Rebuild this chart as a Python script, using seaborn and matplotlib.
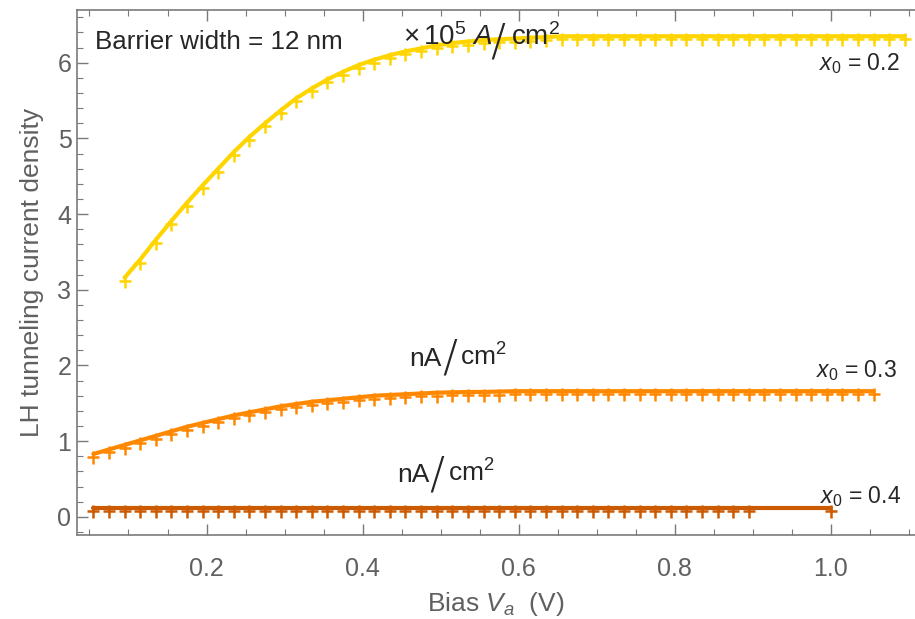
import numpy as np
import matplotlib
matplotlib.use("Agg")
import matplotlib.pyplot as plt
import seaborn as sns
import pandas as pd
from matplotlib.ticker import MultipleLocator
from matplotlib.path import Path

# bias (V) and LH tunneling current density
bias_02 = [0.095, 0.115, 0.135, 0.155, 0.175, 0.195, 0.215, 0.235, 0.255, 0.275,
           0.295, 0.315, 0.335, 0.355, 0.375, 0.395, 0.415, 0.435, 0.455, 0.475,
           0.495, 0.515, 0.535, 0.555, 0.575, 0.595, 0.615, 0.635, 0.655, 0.675,
           0.695, 0.715, 0.735, 0.755, 0.775, 0.795, 0.815, 0.835, 0.855, 0.875,
           0.895, 0.915, 0.935, 0.955, 0.975, 0.995, 1.015, 1.035, 1.055, 1.075,
           1.095]
curr_02 = [3.16, 3.40, 3.66, 3.91, 4.15, 4.38, 4.60, 4.82, 5.02, 5.20,
           5.37, 5.53, 5.66, 5.78, 5.88, 5.97, 6.04, 6.10, 6.15, 6.19,
           6.23, 6.26, 6.28, 6.30, 6.31, 6.32, 6.33, 6.34, 6.35, 6.35,
           6.35, 6.35, 6.35, 6.35, 6.35, 6.35, 6.35, 6.35, 6.35, 6.35,
           6.35, 6.35, 6.35, 6.35, 6.35, 6.35, 6.35, 6.35, 6.35, 6.35,
           6.35]

bias_03 = [0.055, 0.075, 0.095, 0.115, 0.135, 0.155, 0.175, 0.195, 0.215, 0.235,
           0.255, 0.275, 0.295, 0.315, 0.335, 0.355, 0.375, 0.395, 0.415, 0.435,
           0.455, 0.475, 0.495, 0.515, 0.535, 0.555, 0.575, 0.595, 0.615, 0.635,
           0.655, 0.675, 0.695, 0.715, 0.735, 0.755, 0.775, 0.795, 0.815, 0.835,
           0.855, 0.875, 0.895, 0.915, 0.935, 0.955, 0.975, 0.995, 1.015, 1.035,
           1.055]
curr_03 = [0.83, 0.89, 0.95, 1.01, 1.07, 1.13, 1.19, 1.24, 1.29, 1.34,
           1.38, 1.42, 1.46, 1.49, 1.52, 1.54, 1.56, 1.58, 1.60, 1.61,
           1.62, 1.63, 1.64, 1.645, 1.65, 1.65, 1.655, 1.66, 1.66, 1.66,
           1.66, 1.66, 1.66, 1.66, 1.66, 1.66, 1.66, 1.66, 1.66, 1.66,
           1.66, 1.66, 1.66, 1.66, 1.66, 1.66, 1.66, 1.66, 1.66, 1.66,
           1.66]

bias_04 = [0.055, 0.075, 0.095, 0.115, 0.135, 0.155, 0.175, 0.195, 0.215, 0.235,
           0.255, 0.275, 0.295, 0.315, 0.335, 0.355, 0.375, 0.395, 0.415, 0.435,
           0.455, 0.475, 0.495, 0.515, 0.535, 0.555, 0.575, 0.595, 0.615, 0.635,
           0.655, 0.675, 0.695, 0.715, 0.735, 0.755, 0.775, 0.795, 0.815, 0.835,
           0.855, 0.875, 0.895, 1.0]
curr_04 = [0.12, 0.12, 0.12, 0.12, 0.12, 0.12, 0.12, 0.12, 0.12, 0.12,
           0.12, 0.12, 0.12, 0.12, 0.12, 0.12, 0.12, 0.12, 0.12, 0.12,
           0.12, 0.12, 0.12, 0.12, 0.12, 0.12, 0.12, 0.12, 0.12, 0.12,
           0.12, 0.12, 0.12, 0.12, 0.12, 0.12, 0.12, 0.12, 0.12, 0.12,
           0.12, 0.12, 0.12, 0.12]

colors = {"0.2": "#ffd500", "0.3": "#ff8800", "0.4": "#cc5a00"}

df = pd.concat([
    pd.DataFrame({"bias": bias_02, "J": curr_02, "x0": "0.2"}),
    pd.DataFrame({"bias": bias_03, "J": curr_03, "x0": "0.3"}),
    pd.DataFrame({"bias": bias_04, "J": curr_04, "x0": "0.4"}),
])

# "+" marker sitting a little below its point, like the Mathematica plot markers
plus_low = Path([(-0.5, -0.25), (0.5, -0.25), (0, -0.75), (0, 0.25)],
                [Path.MOVETO, Path.LINETO, Path.MOVETO, Path.LINETO])

sns.set_style("ticks")
plt.rcParams["font.family"] = ["Liberation Sans", "DejaVu Sans"]
plt.rcParams["mathtext.fontset"] = "custom"
plt.rcParams["mathtext.rm"] = "Liberation Sans"
plt.rcParams["mathtext.it"] = "Liberation Sans:italic"

W, H = 915, 619
fig = plt.figure(figsize=(W / 100, H / 100), dpi=100)
ax = fig.add_axes([77 / W, 1 - 535 / H, 1 - 77 / W, (535 - 10) / H])

for key, sub in df.groupby("x0"):
    c = colors[key]
    sns.lineplot(data=sub, x="bias", y="J", color=c, lw=3,
                 marker=plus_low, markersize=14, mew=1.8, markeredgecolor=c,
                 markerfacecolor="none", ax=ax, legend=False,
                 estimator=None, sort=False)

ax.set_xlim(0.034, 1.108)
ax.set_ylim(-0.24, 6.697)
ax.xaxis.set_minor_locator(MultipleLocator(0.05))
ax.yaxis.set_major_locator(MultipleLocator(1))
ax.yaxis.set_minor_locator(MultipleLocator(0.2))
ax.set_xticks([0.2, 0.4, 0.6, 0.8, 1.0])
ax.set_xticklabels(["0.2", "0.4", "0.6", "0.8", "1.0"])

gray = "#7a7a7a"
for s in ["left", "bottom", "top"]:
    ax.spines[s].set_color(gray)
    ax.spines[s].set_linewidth(1.2)
ax.spines["right"].set_visible(False)
ax.tick_params(which="both", direction="in", top=True, right=False, color=gray,
               labelcolor="#606060", labelsize=18)
ax.tick_params(which="major", length=8, width=1)
ax.tick_params(which="minor", length=4, width=0.8)
ax.tick_params(axis="x", which="major", pad=16)
ax.tick_params(axis="y", which="major", pad=4)

ax.set_xlabel("Bias $V_a$  (V)", fontsize=19, color="#606060", labelpad=6)
ax.set_ylabel("LH tunneling current density", fontsize=19, color="#606060", labelpad=10)


def ftext(px, py, s, **kw):
    # place text at a pixel position of the 915x619 picture
    fig.text(px / W, 1 - py / H, s, **kw)


ftext(95, 49, "Barrier width = 12 nm", fontsize=18.7, va="baseline")

# unit labels with a tall slash
slash = dict(fontsize=32, ha="center", va="center", family="DejaVu Sans", fontweight="light")
ftext(403, 45, r"$\times\,10^{5}\ A$", fontsize=20, va="baseline")
ftext(498, 43, "/", **slash)
ftext(511, 45, r"$\mathrm{cm}^{2}$", fontsize=20, va="baseline")

ftext(409, 366, "nA", fontsize=19, va="baseline")
ftext(450, 359, "/", **slash)
ftext(460, 366, r"$\mathrm{cm}^{2}$", fontsize=19, va="baseline")

ftext(397, 482, "nA", fontsize=19, va="baseline")
ftext(437, 476, "/", **slash)
ftext(448, 482, r"$\mathrm{cm}^{2}$", fontsize=19, va="baseline")

ftext(900, 70, r"$x_0$ = 0.2", fontsize=16.5, ha="right", va="baseline")
ftext(897, 377, r"$x_0$ = 0.3", fontsize=16.5, ha="right", va="baseline")
ftext(901, 503, r"$x_0$ = 0.4", fontsize=16.5, ha="right", va="baseline")

fig.savefig("out.png", dpi=100)
